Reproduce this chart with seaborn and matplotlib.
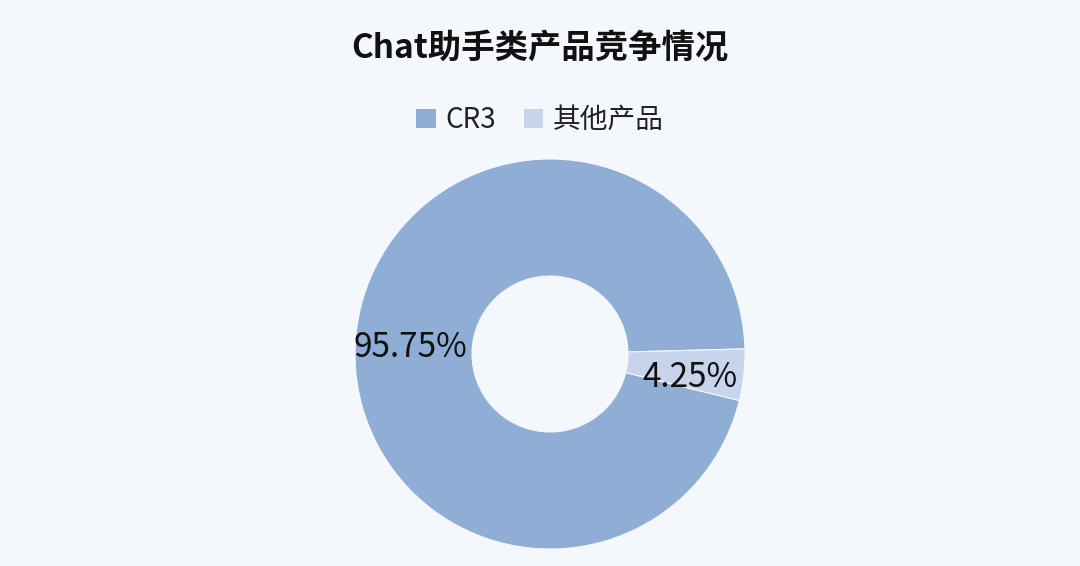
import matplotlib
matplotlib.use("Agg")
import matplotlib.pyplot as plt
import seaborn as sns
from matplotlib.patches import Patch

categories = ["CR3", "其他产品"]
values = [95.75, 4.25]
title = "Chat助手类产品竞争情况"

colors = ["#8FADD5", "#C7D4EC"]
bg = "#F4F8FD"

sns.set_theme(style="white")
plt.rcParams['font.family'] = ['Noto Sans CJK SC', 'DejaVu Sans']

fig = plt.figure(figsize=(10.8, 5.66), dpi=100, facecolor=bg)
ax = fig.add_axes([(550 - 195) / 1080, (566 - 354 - 195) / 566, 390 / 1080, 390 / 566])
ax.set_facecolor(bg)

wedges, texts, autotexts = ax.pie(
    values, colors=colors, startangle=-13.8, counterclock=False,
    autopct='%.2f%%', pctdistance=0.72, radius=1.0,
    wedgeprops=dict(width=0.6, edgecolor=bg, linewidth=0.8),
    textprops=dict(fontsize=24, color="#111111"))
# nudge labels slightly down to compensate for CJK font vertical metrics
for t in autotexts:
    x, y = t.get_position()
    t.set_position((x, y - 0.045))
ax.set_xlim(-1, 1)
ax.set_ylim(-1, 1)
ax.set_aspect('equal')
ax.axis('off')

fig.text(0.5, 1 - 48 / 566, title, ha='center', va='center', fontsize=24,
         fontweight='bold', color="#111111")

handles = [Patch(facecolor=c, edgecolor='none') for c in colors]
fig.legend(handles, categories, loc='center', bbox_to_anchor=(0.5, 1 - 120 / 566),
           ncol=2, frameon=False, fontsize=20, handlelength=0.7, handleheight=0.7,
           handletextpad=0.35, columnspacing=1.0, labelcolor="#222222")

fig.savefig("out.png", dpi=100, facecolor=bg)
